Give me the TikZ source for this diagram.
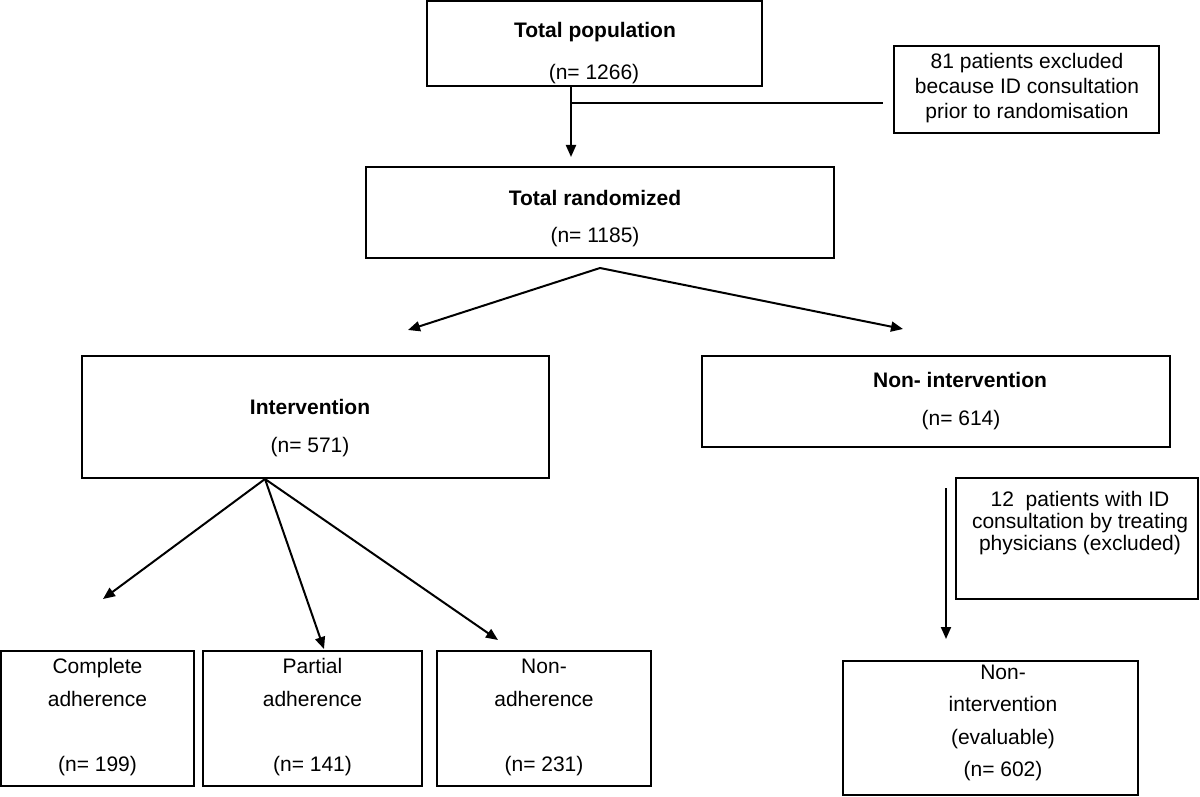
\documentclass[tikz,border=0pt]{standalone}
\usepackage{fontspec}
\setmainfont{Liberation Sans}
\usetikzlibrary{arrows.meta}

\begin{document}
\begin{tikzpicture}[x=0.5pt,y=0.5pt,yscale=-1,
  box/.style={draw,line width=1pt,inner sep=0pt},
  txt/.style={inner sep=0.75pt,align=center,font=\fontsize{10.5}{12.6}\selectfont},
  bold/.style={inner sep=0.75pt,font=\fontsize{10.5}{12.6}\selectfont\bfseries},
  conn/.style={line width=1pt},
  arr/.style={line width=1pt,-{Triangle[length=6pt,width=5pt]}}]
\useasboundingbox (0,0) rectangle (1200,797);

%Shape: Rectangle
\node [box,minimum width=167.5pt,minimum height=42.5pt] (totpop) at (594.5,43.5) {};
%Shape: Rectangle
\node [box,minimum width=132.5pt,minimum height=43.5pt] (exclA) at (1026.5,89.5) {};
%Shape: Rectangle
\node [box,minimum width=234pt,minimum height=45.5pt] (rand) at (600,212.5) {};
%Shape: Rectangle
\node [box,minimum width=233.5pt,minimum height=61pt] (interv) at (315.5,417) {};
%Shape: Rectangle
\node [box,minimum width=234pt,minimum height=45.5pt] (nonint) at (936,401.5) {};
%Shape: Rectangle
\node [box,minimum width=121pt,minimum height=60.5pt] (exclB) at (1077,538.5) {};
%Shape: Rectangle
\node [box,minimum width=96.5pt,minimum height=67.5pt] (complete) at (97.5,718.5) {};
%Shape: Rectangle
\node [box,minimum width=109.5pt,minimum height=67.5pt] (partial) at (312.5,718.5) {};
%Shape: Rectangle
\node [box,minimum width=107pt,minimum height=67.5pt] (nonadh) at (544,718.5) {};
%Shape: Rectangle
\node [box,minimum width=147.5pt,minimum height=67pt] (evalbox) at (990.5,728) {};

\coordinate (downA) at (571,157);
\coordinate (joinA) at (571,103);
\coordinate (splitA) at (600,268);
\coordinate (tipL) at (408,330);
\coordinate (tipR) at (903,329);
\coordinate (splitB) at (265,479);
\coordinate (tipC) at (103,599);
\coordinate (tipP) at (324,649);
\coordinate (tipN) at (498,640);
\coordinate (dropA) at (946,488);
\coordinate (dropB) at (946,639);

%Straight Lines
\draw [arr] (totpop.south -| downA) -- (downA) ;
%Straight Lines
\draw [conn] (joinA) -- ([xshift=-5pt]exclA.west |- joinA) ;
%Straight Lines
\draw [arr] (splitA) -- (tipL) ;
\draw [arr] (splitA) -- (tipR) ;
%Straight Lines
\draw [arr] (splitB) -- (tipC) ;
\draw [arr] (splitB) -- (tipP) ;
\draw [arr] (splitB) -- (tipN) ;
%Straight Lines
\draw [arr] (dropA) -- (dropB) ;

% Text Node
\node [bold] (totpopA) at (595,32) {Total population};
\node [txt] (totpopB) at (594,74) {(n= 1266)};
% Text Node
\node [txt,font=\fontsize{10.5}{12.5}\selectfont] (exclAtxt) at (1027,88) {81 patients excluded\\because ID consultation\\prior to randomisation};
% Text Node
\node [bold] (randA) at (595,198) {Total randomized};
\node [txt] (randB) at (595,237) {(n= 1185)};
% Text Node
\node [bold] (intervA) at (310,407) {Intervention};
\node [txt] (intervB) at (310,447) {(n= 571)};
% Text Node
\node [bold] (nonintA) at (960,380) {Non- intervention};
\node [txt] (nonintB) at (961,420) {(n= 614)};
% Text Node
\node [txt,font=\fontsize{10.5}{10.8}\selectfont] (exclBtxt) at (1080,523) {12\ \ patients with ID\\consultation by treating\\physicians (excluded)};
% Text Node
\node [txt,font=\fontsize{10.5}{16.5}\selectfont] (completeA) at (97.5,682.5) {Complete\\adherence};
\node [txt] (completeB) at (97.5,766) {(n= 199)};
\node [txt,font=\fontsize{10.5}{16.5}\selectfont] (partialA) at (312.5,682.5) {Partial\\adherence};
\node [txt] (partialB) at (312.5,766) {(n= 141)};
\node [txt,font=\fontsize{10.5}{16.5}\selectfont] (nonadhA) at (544,682.5) {Non-\\adherence};
\node [txt] (nonadhB) at (544,766) {(n= 231)};
% Text Node
\node [txt,font=\fontsize{10.5}{16.3}\selectfont] (evalA) at (1003,723) {Non-\\intervention\\(evaluable)\\(n= 602)};
\end{tikzpicture}
\end{document}
